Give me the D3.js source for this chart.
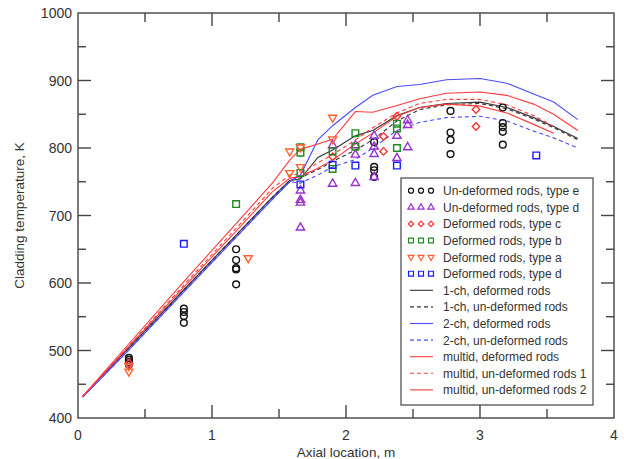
<!DOCTYPE html>
<html>
<head>
<meta charset="utf-8">
<script src="https://cdn.jsdelivr.net/npm/d3@7"></script>
<style>
  body { margin: 0; background: #fff; }
  svg { font-family: "Liberation Sans", Arial, sans-serif; }
</style>
</head>
<body>
<div id="chart"></div>
<script>
// measured points, [axial location m, temperature K]
var undefE = [[0.38,489],[0.38,486],[0.38,483],[0.38,479],
  [0.79,562],[0.79,557],[0.79,551],[0.79,541],
  [1.18,650],[1.18,634],[1.18,622],[1.18,620],[1.18,598],
  [2.21,809],[2.21,772],[2.21,767],[2.21,757],
  [2.78,855],[2.78,823],[2.78,812],[2.78,791],
  [3.17,860],[3.17,837],[3.17,831],[3.17,824],[3.17,805]];
var undefD = [[1.66,737],[1.66,723],[1.66,719],[1.66,682],
  [1.9,804],[1.9,747],[2.07,804],[2.07,790],[2.07,748],
  [2.21,818],[2.21,802],[2.21,791],[2.21,757],
  [2.38,818],[2.38,785],[2.46,841],[2.46,834],[2.46,801]];
var defC = [[0.38,481],[1.9,787],[2.28,817],[2.28,795],[2.38,847],[2.97,857],[2.97,832]];
var defB = [[1.18,717],[1.66,801],[1.66,793],[1.66,763],[1.9,795],[1.9,769],
  [2.07,822],[2.07,802],[2.38,836],[2.38,829],[2.38,800]];
var defA = [[0.38,477],[0.38,469],[1.27,637],[1.58,795],[1.58,763],
  [1.66,801],[1.66,772],[1.9,845],[1.9,813]];
var defD = [[0.79,658],[1.66,746],[1.9,775],[2.07,774],[2.38,774],[3.42,789]];

// calculated profiles on a common axial grid
var gridX    = [0.035,0.38,0.79,1.18,1.45,1.58,1.66,1.79,1.9,2.07,2.2,2.38,2.55,2.75,3.0,3.2,3.4,3.55,3.73];
var ch1Def   = [432,504,590,671,727,752,754,786,797,818,826,848,860,866,868,860,845,832,814];
var ch1Undef = [432,504,590,671,727,752,756,768,780,797,812,840,857,864,866,858,843,830,812];
var ch2Def   = [431,501,587,668,724,750,760,812,833,860,878,891,894,901,903,896,880,868,842];
var ch2Undef = [431,501,587,668,724,750,748,760,772,783,800,826,838,845,847,840,825,815,800];
var mdDef    = [432,510,602,688,748,782,798,806,813,854,853,863,873,881,883,878,865,850,826];
var mdUndef1 = [432,507,597,681,740,760,762,778,790,812,830,852,866,872,872,864,848,832,null];
var mdUndef2 = [432,506,594,677,735,755,758,770,782,806,822,847,860,865,862,852,835,822,null];

var xTicks = [0, 1, 2, 3, 4];
var yTicks = [400, 500, 600, 700, 800, 900, 1000];

var W = 624, H = 459;
var svg = d3.select("#chart").append("svg").attr("width", W).attr("height", H);

var x = d3.scaleLinear().domain([0, 4]).range([78, 614]);
var y = d3.scaleLinear().domain([400, 1000]).range([418, 13]);

var axisCol = "#444";

// lines
var lines = [
  {v: ch1Def,   col: "#333333", dash: null, label: "1-ch, deformed rods"},
  {v: ch1Undef, col: "#333333", dash: "4,3", label: "1-ch, un-deformed rods"},
  {v: ch2Def,   col: "#4a4aff", dash: null, label: "2-ch, deformed rods"},
  {v: ch2Undef, col: "#4a4aff", dash: "4,3", label: "2-ch, un-deformed rods"},
  {v: mdDef,    col: "#ff3b3b", dash: null, label: "multid, deformed rods"},
  {v: mdUndef1, col: "#ff3b3b", dash: "4,3", label: "multid, un-deformed rods 1"},
  {v: mdUndef2, col: "#ff3b3b", dash: null, label: "multid, un-deformed rods 2"}
];

var line = d3.line()
  .defined(function (d) { return d[1] != null; })
  .x(function (d) { return x(d[0]); })
  .y(function (d) { return y(d[1]); });

lines.forEach(function (l) {
  svg.append("path")
    .datum(gridX.map(function (gx, i) { return [gx, l.v[i]]; }))
    .attr("d", line)
    .attr("fill", "none")
    .attr("stroke", l.col)
    .attr("stroke-width", 1.1)
    .attr("stroke-dasharray", l.dash);
});

// markers
var series = [
  {d: undefE, col: "#111111", sym: d3.symbolCircle, size: 36, rot: 0, label: "Un-deformed rods, type e"},
  {d: undefD, col: "#9b30d0", sym: d3.symbolTriangle, size: 30, rot: 0, label: "Un-deformed rods, type d"},
  {d: defC,   col: "#ff3333", sym: d3.symbolSquare, size: 28, rot: 45, label: "Deformed rods, type c"},
  {d: defB,   col: "#1f8a1f", sym: d3.symbolSquare, size: 44, rot: 0, label: "Deformed rods, type b"},
  {d: defA,   col: "#ff6030", sym: d3.symbolTriangle, size: 28, rot: 180, label: "Deformed rods, type a"},
  {d: defD,   col: "#1a1aff", sym: d3.symbolSquare, size: 44, rot: 0, label: "Deformed rods, type d"}
];

series.forEach(function (s) {
  svg.append("g").selectAll("path")
    .data(s.d)
    .enter().append("path")
    .attr("d", d3.symbol().type(s.sym).size(s.size))
    .attr("transform", function (d) {
      return "translate(" + x(d[0]) + "," + y(d[1]) + ") rotate(" + s.rot + ")";
    })
    .attr("fill", "none")
    .attr("stroke", s.col)
    .attr("stroke-width", 1.4);
});

// frame and inward ticks
var g = svg.append("g").attr("stroke", axisCol).attr("stroke-width", 1.4);
g.append("rect").attr("x", x(0)).attr("y", y(1000))
  .attr("width", x(4) - x(0)).attr("height", y(400) - y(1000)).attr("fill", "none");

d3.range(0.5, 4, 0.5).forEach(function (t) {
  var len = (t % 1 === 0) ? 13 : 9;
  g.append("line").attr("x1", x(t)).attr("x2", x(t)).attr("y1", y(400)).attr("y2", y(400) - len);
  g.append("line").attr("x1", x(t)).attr("x2", x(t)).attr("y1", y(1000)).attr("y2", y(1000) + len);
});
d3.range(450, 1000, 50).forEach(function (t) {
  var len = (t % 100 === 0) ? 13 : 8;
  g.append("line").attr("y1", y(t)).attr("y2", y(t)).attr("x1", x(0)).attr("x2", x(0) + len);
  g.append("line").attr("y1", y(t)).attr("y2", y(t)).attr("x1", x(4)).attr("x2", x(4) - len);
});

// tick labels
svg.append("g").selectAll("text").data(xTicks).enter().append("text")
  .attr("x", function (d) { return x(d); })
  .attr("y", 440)
  .attr("text-anchor", "middle")
  .attr("font-size", 14)
  .attr("fill", "#333")
  .text(function (d) { return d; });

svg.append("g").selectAll("text").data(yTicks).enter().append("text")
  .attr("x", 72)
  .attr("y", function (d) { return y(d) + 5; })
  .attr("text-anchor", "end")
  .attr("font-size", 14)
  .attr("fill", "#333")
  .text(function (d) { return d; });

svg.append("text")
  .attr("x", x(2)).attr("y", 457)
  .attr("text-anchor", "middle").attr("font-size", 13.5).attr("fill", "#333")
  .text("Axial location, m");

svg.append("text")
  .attr("transform", "translate(24," + y(700) + ") rotate(-90)")
  .attr("text-anchor", "middle").attr("font-size", 13.5).attr("fill", "#333")
  .text("Cladding temperature, K");

// legend
var lg = svg.append("g").attr("transform", "translate(401,178)");
lg.append("rect").attr("width", 192).attr("height", 227)
  .attr("fill", "#fff").attr("stroke", axisCol).attr("stroke-width", 1.2);

var rowH = 16.6, row0 = 12.7;
series.forEach(function (s, i) {
  var ry = row0 + i * rowH;
  [10, 20, 30].forEach(function (sx) {
    lg.append("path")
      .attr("d", d3.symbol().type(s.sym).size(s.size * 0.55))
      .attr("transform", "translate(" + sx + "," + ry + ") rotate(" + s.rot + ")")
      .attr("fill", "none").attr("stroke", s.col).attr("stroke-width", 1.2);
  });
  lg.append("text").attr("x", 42).attr("y", ry + 4.5)
    .attr("font-size", 12).attr("fill", "#333").text(s.label);
});
lines.forEach(function (l, i) {
  var ry = row0 + (i + 6) * rowH;
  lg.append("line").attr("x1", 9).attr("x2", 32).attr("y1", ry).attr("y2", ry)
    .attr("stroke", l.col).attr("stroke-width", 1.1).attr("stroke-dasharray", l.dash);
  lg.append("text").attr("x", 42).attr("y", ry + 4.5)
    .attr("font-size", 12).attr("fill", "#333").text(l.label);
});
</script>
</body>
</html>
